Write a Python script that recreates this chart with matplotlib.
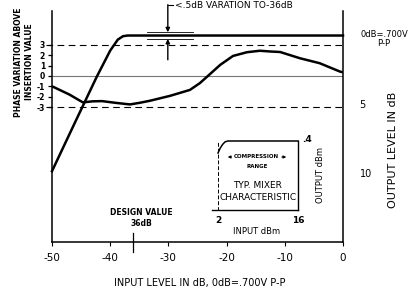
import matplotlib
matplotlib.use('Agg')
import matplotlib.pyplot as plt

W, H = 411, 293

# phase variation curve (left scale, degrees above insertion value)
phase_x = [-50, -47, -44.7, -43, -41.4, -39, -36.6, -35, -33.2, -29.7, -26.3, -24.6,
           -23.2, -21.1, -18.9, -16.5, -14.3, -12.5, -10.8, -7.4, -4.0, -0.5, 0]
phase_y = [-1.0, -1.8, -2.55, -2.45, -2.43, -2.6, -2.75, -2.6, -2.4, -1.92, -1.35, -0.7,
           0.0, 1.06, 1.92, 2.28, 2.42, 2.35, 2.3, 1.7, 1.22, 0.41, 0.35]

# output level curve (right scale, dB below 0dB=.700V P-P)
output_x = [-50, -46, -42.3, -40, -38.7, -37.8, -37, -30, -20, -10, 0]
output_db = [9.9, 6.3, 3.0, 1.1, 0.3, 0.05, 0, 0, 0, 0, 0]

# inset: typical mixer characteristic
mixer_in = [2, 2.4, 2.8, 3.2, 3.7, 16]
mixer_out = [-0.8, -0.3, 0.05, 0.3, 0.4, 0.4]

x_ticks = [-50, -40, -30, -20, -10, 0]
x_labels = ['-50', '-40', '-30', '-20', '-10', '0']
left_ticks = [3, 2, 1, 0, -1, -2, -3]
right_ticks = [5, 10]
design_value = -36


def fx(px):
    return px / W


def fy(py):
    return 1 - py / H


plt.rcParams['font.family'] = 'DejaVu Sans'
fig = plt.figure(figsize=(W / 100, H / 100), dpi=100)

ax = fig.add_axes([fx(52), fy(242), (343 - 52) / W, (242 - 11) / H])
ax.set_xlim(-50, 0)
ax.set_ylim(-16.0, 6.25)
ax.spines['top'].set_visible(False)
for s in ['left', 'right', 'bottom']:
    ax.spines[s].set_linewidth(1.1)

ax.set_xticks(x_ticks)
ax.set_xticklabels(x_labels, fontsize=7.5)
ax.tick_params(axis='x', direction='out', length=3, width=0.8, pad=5)
ax.set_yticks(left_ticks)
ax.set_yticklabels([str(t) for t in left_ticks], fontsize=5.5, fontweight='bold')
ax.tick_params(axis='y', direction='out', length=3, width=0.9, pad=2)

# reference lines
ax.plot([-51, 0], [3, 3], color='black', lw=0.8, ls=(0, (6, 4)), clip_on=False)
ax.plot([-51, 0], [-3, -3], color='black', lw=0.8, ls=(0, (6, 4)), clip_on=False)
ax.plot([-50, 0], [0, 0], color='#777777', lw=0.8)

ax.plot(phase_x, phase_y, color='black', lw=1.8, solid_capstyle='butt')

ax2 = ax.twinx()
ax2.set_ylim(15.07, -1.79)
ax2.set_xlim(-50, 0)
for s in ax2.spines.values():
    s.set_visible(False)
ax2.set_yticks(right_ticks)
ax2.set_yticklabels([str(t) for t in right_ticks], fontsize=7)
ax2.tick_params(axis='y', length=0, pad=12)
ax2.plot(output_x, output_db, color='black', lw=1.8, clip_on=False)

# variation bracket
ax.plot([-33.7, -25.8], [4.18, 4.18], color='black', lw=0.6, clip_on=False)
ax.plot([-33.7, -25.8], [3.56, 3.56], color='black', lw=0.6, clip_on=False)
ax.annotate('', xy=(-30.1, 4.2), xytext=(-30.1, 6.85), annotation_clip=False,
            arrowprops=dict(arrowstyle='-|>', color='black', lw=1.0,
                            mutation_scale=6, shrinkA=0, shrinkB=0))
ax.plot([-30.1, -29.2], [6.85, 6.85], color='black', lw=0.8, clip_on=False)
ax.annotate('', xy=(-30.1, 3.56), xytext=(-30.1, 1.55), annotation_clip=False,
            arrowprops=dict(arrowstyle='-|>', color='black', lw=1.0,
                            mutation_scale=6, shrinkA=0, shrinkB=0))
ax.text(-28.9, 6.75, '<.5dB VARATION TO-36dB', fontsize=6.5, va='center',
        ha='left', clip_on=False)

# design value marker
ax.plot([design_value, design_value], [-15.1, -17.0], color='black', lw=0.9,
        clip_on=False)
ax.text(-34.7, -13.7, 'DESIGN VALUE\n36dB', fontsize=5.5, fontweight='bold',
        ha='center', va='center', multialignment='center', linespacing=1.2)

# axis labels
fig.text(fx(200), fy(283), 'INPUT LEVEL IN dB, 0dB=.700V P-P', fontsize=7,
         ha='center', va='center')
fig.text(fx(24), fy(62), 'PHASE VARIATION ABOVE\nINSERTION VALUE', fontsize=5.5,
         fontweight='bold', rotation=90, ha='center', va='center',
         multialignment='center', linespacing=1.3)
fig.text(fx(393), fy(150), 'OUTPUT LEVEL IN dB', fontsize=8, rotation=90,
         ha='center', va='center')
fig.text(fx(360), fy(39), '0dB=.700V\nP-P', fontsize=6, ha='left', va='center',
         multialignment='center', linespacing=1.1)

# inset
axi = fig.add_axes([fx(218), fy(210), 80 / W, 69 / H])
axi.set_xlim(2, 16)
axi.set_ylim(-6.5, 0.4)
axi.patch.set_alpha(0)
axi.spines['top'].set_visible(False)
axi.spines['left'].set_linestyle((0, (3, 3)))
axi.spines['left'].set_linewidth(0.7)
axi.spines['bottom'].set_linewidth(1.0)
axi.spines['bottom'].set_bounds(1, 16)
axi.spines['right'].set_linewidth(1.0)
axi.set_xticks([2, 16])
axi.set_xticklabels(['2', '16'], fontsize=6.5, fontweight='bold')
axi.tick_params(axis='x', length=0, pad=4)
axi.set_yticks([])
axi.plot(mixer_in, mixer_out, color='black', lw=1.1, clip_on=False)

fig.text(fx(307), fy(140), '.4', fontsize=6.5, fontweight='bold', ha='center',
         va='center')
fig.text(fx(320), fy(175), 'OUTPUT dBm', fontsize=6, rotation=90, ha='center',
         va='center')
fig.text(fx(257), fy(232), 'INPUT dBm', fontsize=6, ha='center', va='center')
fig.text(fx(256), fy(157), 'COMPRESSION', fontsize=4, fontweight='bold',
         ha='center', va='center')
fig.text(fx(257), fy(167), 'RANGE', fontsize=4, fontweight='bold', ha='center',
         va='center')
fig.text(fx(258), fy(185), 'TYP. MIXER', fontsize=6.5, ha='center', va='center')
fig.text(fx(258), fy(197), 'CHARACTERISTIC', fontsize=6.5, ha='center',
         va='center')
fig.add_artist(matplotlib.patches.FancyArrowPatch(
    (fx(234), fy(157)), (fx(225), fy(157)), transform=fig.transFigure,
    arrowstyle='-|>', mutation_scale=4, color='black', lw=0.7))
fig.add_artist(matplotlib.patches.FancyArrowPatch(
    (fx(279), fy(157)), (fx(289), fy(157)), transform=fig.transFigure,
    arrowstyle='-|>', mutation_scale=4, color='black', lw=0.7))

fig.savefig('out.png', dpi=100)
